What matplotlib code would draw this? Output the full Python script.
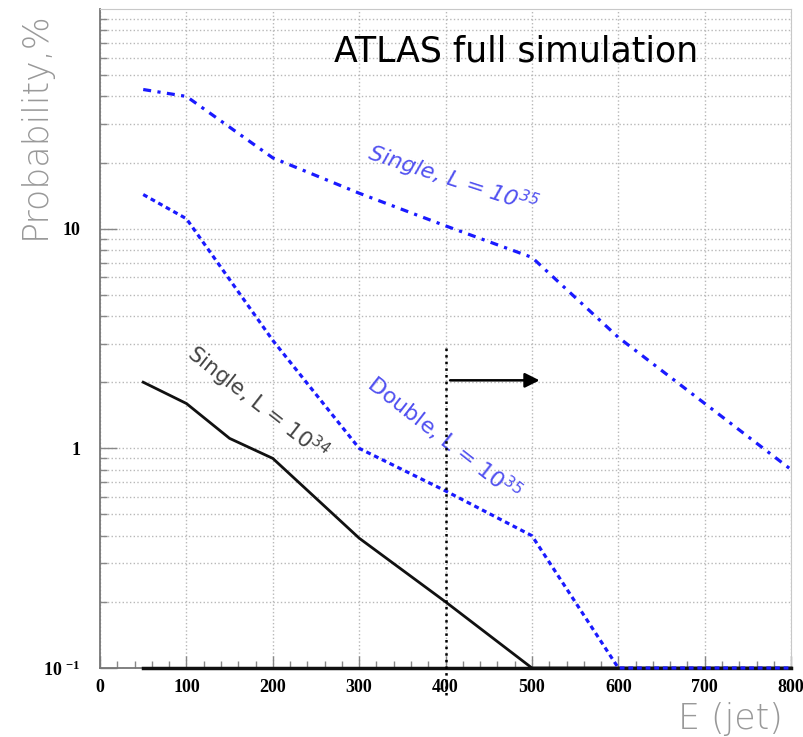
import numpy as np
import matplotlib
matplotlib.use('Agg')
import matplotlib.pyplot as plt
import matplotlib.ticker as mticker

plt.rcParams['mathtext.default'] = 'regular'

# energies (x) and probabilities in %
e_single35 = [50, 100, 200, 300, 400, 500, 600, 700, 800]
p_single35 = [43, 40, 21, 14.5, 10.3, 7.4, 3.2, 1.6, 0.8]

e_double35 = [50, 100, 200, 300, 400, 500, 600, 700, 800]
p_double35 = [14.3, 11.1, 3.1, 1.0, 0.64, 0.40, 0.1, 0.1, 0.1]

e_single34 = [50, 100, 150, 200, 300, 400, 500, 600, 700, 800]
p_single34 = [2.0, 1.6, 1.11, 0.9, 0.39, 0.2, 0.1, 0.1, 0.1, 0.1]

# double at 10^34: below the axis floor everywhere
e_double34 = [50, 800]
p_double34 = [0.1, 0.1]

# threshold marker
cut_e = 400
cut_top = 2.9
arrow_from = 402
arrow_to = 512
arrow_p = 2.04

blue_line = '#1a1aff'
blue_text = '#5050f0'

fig = plt.figure(figsize=(8.04, 7.37), dpi=100)
ax = fig.add_axes([0.1244, 0.0936, 0.8596, 0.8942])
ax.set_yscale('log')
ax.set_xlim(0, 800)
ax.set_ylim(0.1, 100)

# grid
ax.xaxis.set_major_locator(mticker.MultipleLocator(100))
ax.xaxis.set_minor_locator(mticker.MultipleLocator(20))
ax.yaxis.set_major_locator(mticker.FixedLocator([0.1, 1, 10]))
ax.yaxis.set_minor_locator(mticker.LogLocator(base=10, subs=np.arange(2, 10)))
ax.yaxis.set_minor_formatter(mticker.NullFormatter())
ax.yaxis.set_major_formatter(mticker.FixedFormatter(['10 $^{-1}$', '1', '10']))
ax.grid(which='major', axis='x', color='#b8b8b8', linestyle=':', linewidth=1)
ax.grid(which='both', axis='y', color='#b8b8b8', linestyle=':', linewidth=1)

ax.tick_params(axis='both', which='major', direction='in', length=12, width=1,
               color='#888888', labelsize=13)
ax.tick_params(axis='both', which='minor', direction='in', length=5, width=1,
               color='#888888')
ax.tick_params(axis='x', which='major', length=9, pad=8)
ax.tick_params(axis='y', which='major', pad=14)
ax.tick_params(right=False, top=False, which='both')
for lab in ax.get_xticklabels() + ax.get_yticklabels():
    lab.set_family('Liberation Serif')
    lab.set_fontweight('bold')

for side in ['top', 'right']:
    ax.spines[side].set_color('#c8c8c8')
for side in ['left', 'bottom']:
    ax.spines[side].set_color('#777777')
    ax.spines[side].set_linewidth(1.3)

ax.plot(e_double34, p_double34, color='#111111', linewidth=2.5, clip_on=False, zorder=3)
ax.plot(e_single34, p_single34, color='#111111', linewidth=2, clip_on=False, zorder=3)
ax.plot(e_single35, p_single35, color=blue_line, linewidth=2.3,
        linestyle=(0, (2.5, 2, 1, 2)), zorder=4)
ax.plot(e_double35, p_double35, color=blue_line, linewidth=2.3,
        linestyle=(0, (1.5, 1.2)), clip_on=False, zorder=4)

# vertical cut line and arrow
ax.plot([cut_e, cut_e], [0.075, cut_top], color='black', linestyle=':', linewidth=1.8,
        clip_on=False, zorder=5)
ax.annotate('', xy=(arrow_to, arrow_p), xytext=(arrow_from, arrow_p),
            arrowprops=dict(arrowstyle='-|>', color='black', lw=1.8, mutation_scale=22))

# labels on curves
ax.text(408, 16.7, 'Single, L = 10$^{35}$', color=blue_text, fontsize=16, rotation=-18,
        ha='center', va='center', style='italic', family='DejaVu Sans')
ax.text(182, 1.6, 'Single, L = 10$^{34}$', color='#444444', fontsize=15.5, rotation=-38,
        ha='center', va='center', family='DejaVu Sans')
ax.text(398, 1.12, 'Double, L = 10$^{35}$', color=blue_text, fontsize=16, rotation=-38,
        ha='center', va='center', family='DejaVu Sans')

ax.text(0.602, 0.935, 'ATLAS full simulation', transform=ax.transAxes, fontsize=25,
        ha='center', va='center', color='black', family='DejaVu Sans')

fig.text(0.043, 0.830, 'Probability,%', rotation=90, fontsize=25, color='#999999',
         ha='center', va='center', family='DejaVu Sans', fontweight='light')
fig.text(0.908, 0.0245, 'E (jet)', fontsize=25, color='#999999', ha='center', va='center',
         family='DejaVu Sans', fontweight='light')

fig.savefig('out.png', dpi=100)
